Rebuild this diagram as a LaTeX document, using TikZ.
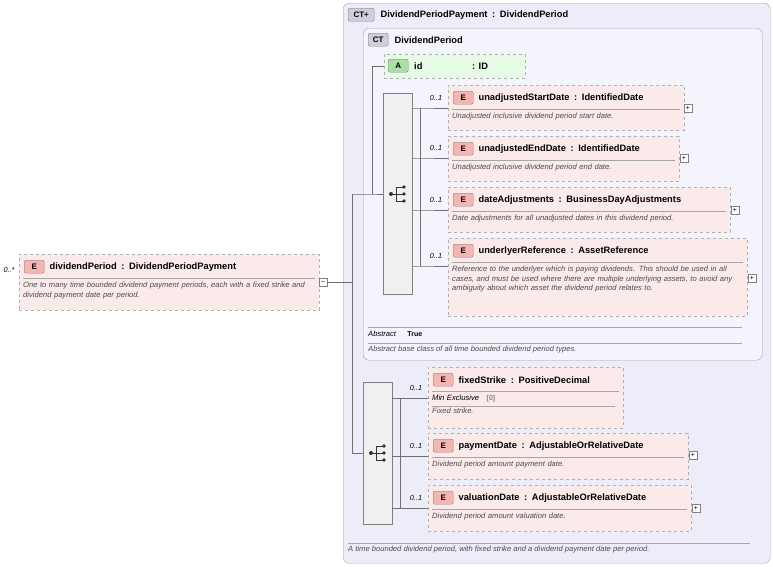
\documentclass[tikz,border=0pt]{standalone}
\usepackage{fontspec}
\setmainfont{Liberation Sans}
\usetikzlibrary{positioning}
\definecolor{ctfill}{HTML}{EDEDFA}
\definecolor{ctdraw}{HTML}{A0A0B8}
\definecolor{efill}{HTML}{FBEAEA}
\definecolor{ebadge}{HTML}{F5B5B0}
\definecolor{edraw}{HTML}{B0B0B0}
\definecolor{afill}{HTML}{E6FBE6}
\definecolor{abadge}{HTML}{A8E0A8}
\definecolor{linec}{HTML}{707070}
\newcommand{\elembox}[7]{% name, x, y, w, h, title, desc
\node[elem box,minimum width=#4pt,minimum height=#5pt] (#1) at (#2,#3) {};
\node[badge,fill=ebadge] (#1b) at ([xshift=5pt,yshift=-6pt]#1.north west) {E};
\node[title node,right=5pt of #1b] (#1t) {#6};
\draw[sep line] ([xshift=4pt,yshift=-24pt]#1.north west) -- ([xshift=-4pt,yshift=-24pt]#1.north east);
\node[desc node,text width=(#4-8)*1pt] (#1d) at ([xshift=4pt,yshift=-28pt]#1.north west) {#7};
}
\begin{document}
\begin{tikzpicture}[x=1pt,y=-1pt,
elem box/.style={draw=edraw,dashed,fill=efill,anchor=north west,inner sep=0pt},
badge/.style={draw=gray,rounded corners=2pt,anchor=north west,font=\bfseries\fontsize{8}{9}\selectfont,inner sep=1.5pt,minimum width=20pt,minimum height=13pt},
title node/.style={font=\bfseries\fontsize{9.3}{10}\selectfont,inner sep=0pt},
desc node/.style={font=\itshape\fontsize{7.6}{9.3}\selectfont,color=black!70,anchor=north west,inner sep=0pt,align=left},
sep line/.style={draw=gray!70},
conn/.style={draw=linec,thin},
card/.style={font=\itshape\fontsize{7.3}{8}\selectfont,inner sep=0pt},
seq box/.style={draw=gray,fill=gray!12,anchor=north west,inner sep=0pt,minimum width=29pt},
plus box/.style={draw=gray,fill=white,minimum size=8pt,inner sep=0pt,font=\fontsize{7}{7}\selectfont}]
\useasboundingbox (0,0) rectangle (773,566);
% outer complex type
\node[draw=ctdraw,fill=ctfill,rounded corners=6pt,anchor=north west,minimum width=427pt,minimum height=560pt,inner sep=0pt] (outer) at (343,3) {};
\node[badge,fill=ctdraw!50,minimum width=26pt] (outerb) at (348,8) {CT+};
\node[title node,right=6pt of outerb] (outert) {DividendPeriodPayment\enspace:\enspace DividendPeriod};
\node[draw=ctdraw,fill=ctfill!60!white,rounded corners=6pt,anchor=north west,minimum width=399pt,minimum height=332pt,inner sep=0pt] (inner) at (363,28) {};
\node[badge,fill=ctdraw!50] (innerb) at (368,33) {CT};
\node[title node,right=6pt of innerb] (innert) {DividendPeriod};
% attribute
\node[draw=edraw,dashed,fill=afill,anchor=north west,minimum width=141pt,minimum height=24pt,inner sep=0pt] (attr) at (384,54) {};
\node[badge,fill=abadge] (attrb) at (388,59) {A};
\node[title node,anchor=west] (attrt) at (414,66) {id};
\node[title node,anchor=west] (attrty) at (472,66) {: ID};
% sequences
\node[seq box,minimum height=201pt] (seq1) at (383,93) {};
\node[seq box,minimum height=142pt] (seq2) at (363,382) {};
\foreach \cx/\cy in {398/194,378/453}{
\draw[black!80,thick] (\cx-7,\cy) -- (\cx-2,\cy) (\cx-2,\cy-7) -- (\cx-2,\cy+7)
  (\cx-2,\cy-7) -- (\cx+6,\cy-7) (\cx-2,\cy) -- (\cx+6,\cy) (\cx-2,\cy+7) -- (\cx+6,\cy+7);
\fill[black!80] (\cx-7,\cy) circle (2pt);
\foreach \d in {-7,0,7} \fill[black!80] (\cx+6,\cy+\d) circle (1.8pt);
}
% elements
\elembox{start}{448}{85}{236}{45}{unadjustedStartDate\enspace:\enspace IdentifiedDate}{Unadjusted inclusive dividend period start date.}
\elembox{end}{448}{136}{231}{45}{unadjustedEndDate\enspace:\enspace IdentifiedDate}{Unadjusted inclusive dividend period end date.}
\elembox{adj}{448}{187}{282}{45}{dateAdjustments\enspace:\enspace BusinessDayAdjustments}{Date adjustments for all unadjusted dates in this dividend period.}
\elembox{und}{448}{238}{299}{78}{underlyerReference\enspace:\enspace AssetReference}{Reference to the underlyer which is paying dividends. This should be used in all cases, and must be used where there are multiple underlying assets, to avoid any ambiguity about which asset the dividend period relates to.}
\elembox{strike}{428}{367}{195}{61}{fixedStrike\enspace:\enspace PositiveDecimal}{\textcolor{black}{Min Exclusive}\quad{\upshape\bfseries\scriptsize\color{gray}[0]}\\[-4pt]\tikz\draw[gray!70](0,0)--(183pt,0);\\[-2pt]Fixed strike.}
\elembox{pay}{428}{433}{260}{46}{paymentDate\enspace:\enspace AdjustableOrRelativeDate}{Dividend period amount payment date.}
\elembox{val}{428}{485}{263}{46}{valuationDate\enspace:\enspace AdjustableOrRelativeDate}{Dividend period amount valuation date.}
\elembox{dp}{19}{254}{300}{56}{dividendPeriod\enspace:\enspace DividendPeriodPayment}{One to many time bounded dividend payment periods, each with a fixed strike and dividend payment date per period.}
% plus boxes
\node[plus box] (p1) at (688,108) {+};
\node[plus box] (p2) at (684,158) {+};
\node[plus box] (p3) at (735,210) {+};
\node[plus box] (p4) at (752,278) {+};
\node[plus box] (p6) at (693,455) {+};
\node[plus box] (p7) at (696,508) {+};
\node[plus box] (m0) at (323,282) {--};
% abstract info
\draw[sep line] (368,327) -- (742,327);
\node[desc node,color=black] (abs) at (368,331) {Abstract\quad\enspace{\upshape\bfseries\scriptsize True}};
\draw[sep line] (368,343) -- (742,343);
\node[desc node] (absd) at (368,346) {Abstract base class of all time bounded dividend period types.};
\draw[sep line] (348,543) -- (750,543);
\node[desc node] (outd) at (348,546) {A time bounded dividend period, with fixed strike and a dividend payment date per period.};
% connectors
\coordinate (j0) at (352,282);
\coordinate (j1) at (352,194);
\coordinate (j2) at (352,453);
\coordinate (ja) at (372,194);
\coordinate (jb) at (372,66);
\draw[conn] (m0) -- (j0) (j1) -- (j2) (j1) -- (ja) -- (seq1.west|-ja) (ja) -- (jb) -- (attr.west|-jb);
\draw[conn] (j2) -- (seq2.west|-j2);
\foreach \e/\y in {start/108,end/158,adj/210,und/266}{
\draw[conn] (seq1.east|-0,\y) -- (420,\y) -- (\e.west|-0,\y);
\node[card] at (436,\y-10) {0..1};
}
\draw[conn] (420,108) -- (420,266);
\foreach \e/\y in {strike/398,pay/456,val/508}{
\draw[conn] (seq2.east|-0,\y) -- (400,\y) -- (\e.west|-0,\y);
\node[card] at (416,\y-10) {0..1};
}
\draw[conn] (400,398) -- (400,508);
\node[card] (dpcard) at (9,270) {0..*};
\end{tikzpicture}
\end{document}
